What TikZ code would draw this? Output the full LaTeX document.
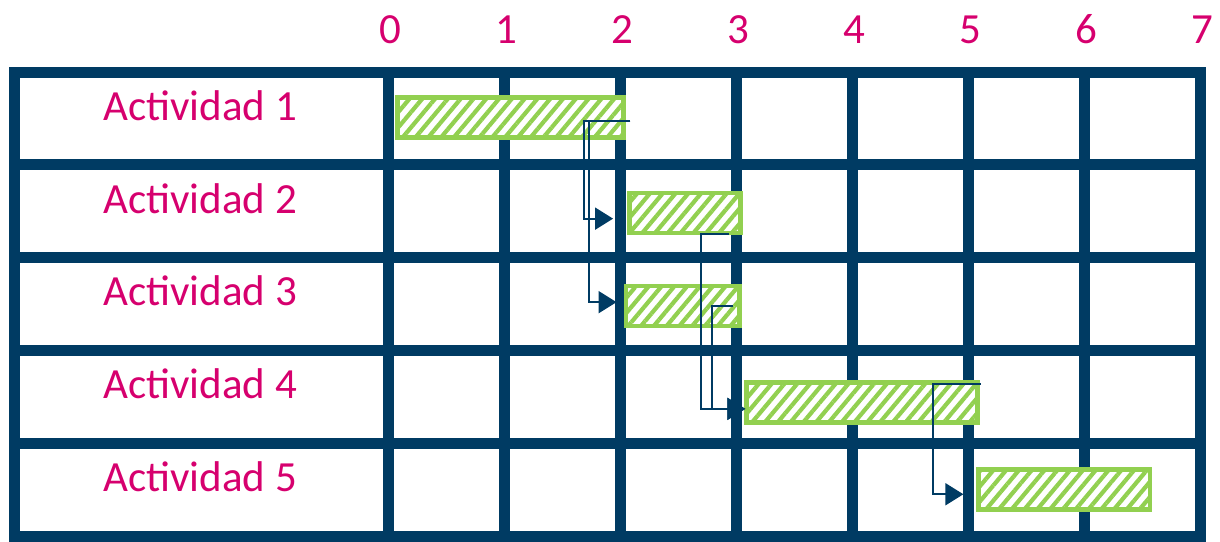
\documentclass[tikz,border=0pt]{standalone}
\usepackage{fontspec}
\setmainfont{Carlito}
\usetikzlibrary{arrows.meta,patterns.meta}
\definecolor{navy}{RGB}{0,59,99}
\definecolor{barGreen}{RGB}{146,208,80}
\definecolor{labelPink}{RGB}{214,0,110}
\begin{document}
\begin{tikzpicture}[x=58pt,y=46.4pt,>={Triangle[length=9pt,width=11pt]},line join=miter,
  gridline/.style={navy,line width=5.5pt},
  bar/.style={draw=barGreen,line width=2.2pt,inner sep=0pt,outer sep=0pt,minimum height=20pt,preaction={fill=white},pattern={Lines[angle=50,distance=4.9pt,line width=2.1pt]},pattern color=barGreen},
  link/.style={->,navy,line width=0.9pt},
  lbl/.style={font=\fontsize{21.5}{24}\selectfont,text=labelPink,anchor=base}]
\useasboundingbox (-3.345,0.776) rectangle (7.172,-5.054);
\draw[gridline] (-3.224,0) rectangle (7,-5);
\foreach \x in {0,...,6} {\draw[gridline] (\x,0) -- (\x,-5);}
\foreach \y in {1,...,4} {\draw[gridline] (-3.224,-\y) -- (7,-\y);}
\foreach \x in {0,...,7} {\node[lbl] (t\x) at (\x+0.02,0.31) {\x};}
\foreach \i in {1,...,5} {\node[lbl] (act\i) at (-1.62,-\i+0.48) {Actividad \i};}
\foreach \n/\s/\e/\y in {1/0.08/2.03/0.49,2/2.08/3.04/1.52,3/2.05/3.03/2.52,4/3.09/5.08/3.56,5/5.09/6.57/4.50}
  {\node[bar,anchor=west,minimum width=(\e-\s)*58pt] (a\n) at (\s,-\y) {};}
\draw[link] ([shift={(0.06,-0.04)}]a1.east) -- ++(-0.4,0) |- ([shift={(-0.14,-0.06)}]a2.west);
\draw[link] ([shift={(0.06,-0.04)}]a1.east) -- ++(-0.36,0) |- ([shift={(-0.08,0.04)}]a3.west);
\draw[link] ([shift={(-0.1,-0.01)}]a2.south east) -- ++(-0.24,0) |- ([shift={(-0.01,-0.07)}]a4.west);
\draw[link] ([shift={(-0.06,0)}]a3.east) -- ++(-0.18,0) |- ([shift={(-0.01,-0.07)}]a4.west);
\draw[link] ([shift={(0.03,-0.02)}]a4.north east) -- ++(-0.41,0) |- ([shift={(-0.13,-0.05)}]a5.west);
\end{tikzpicture}
\end{document}
